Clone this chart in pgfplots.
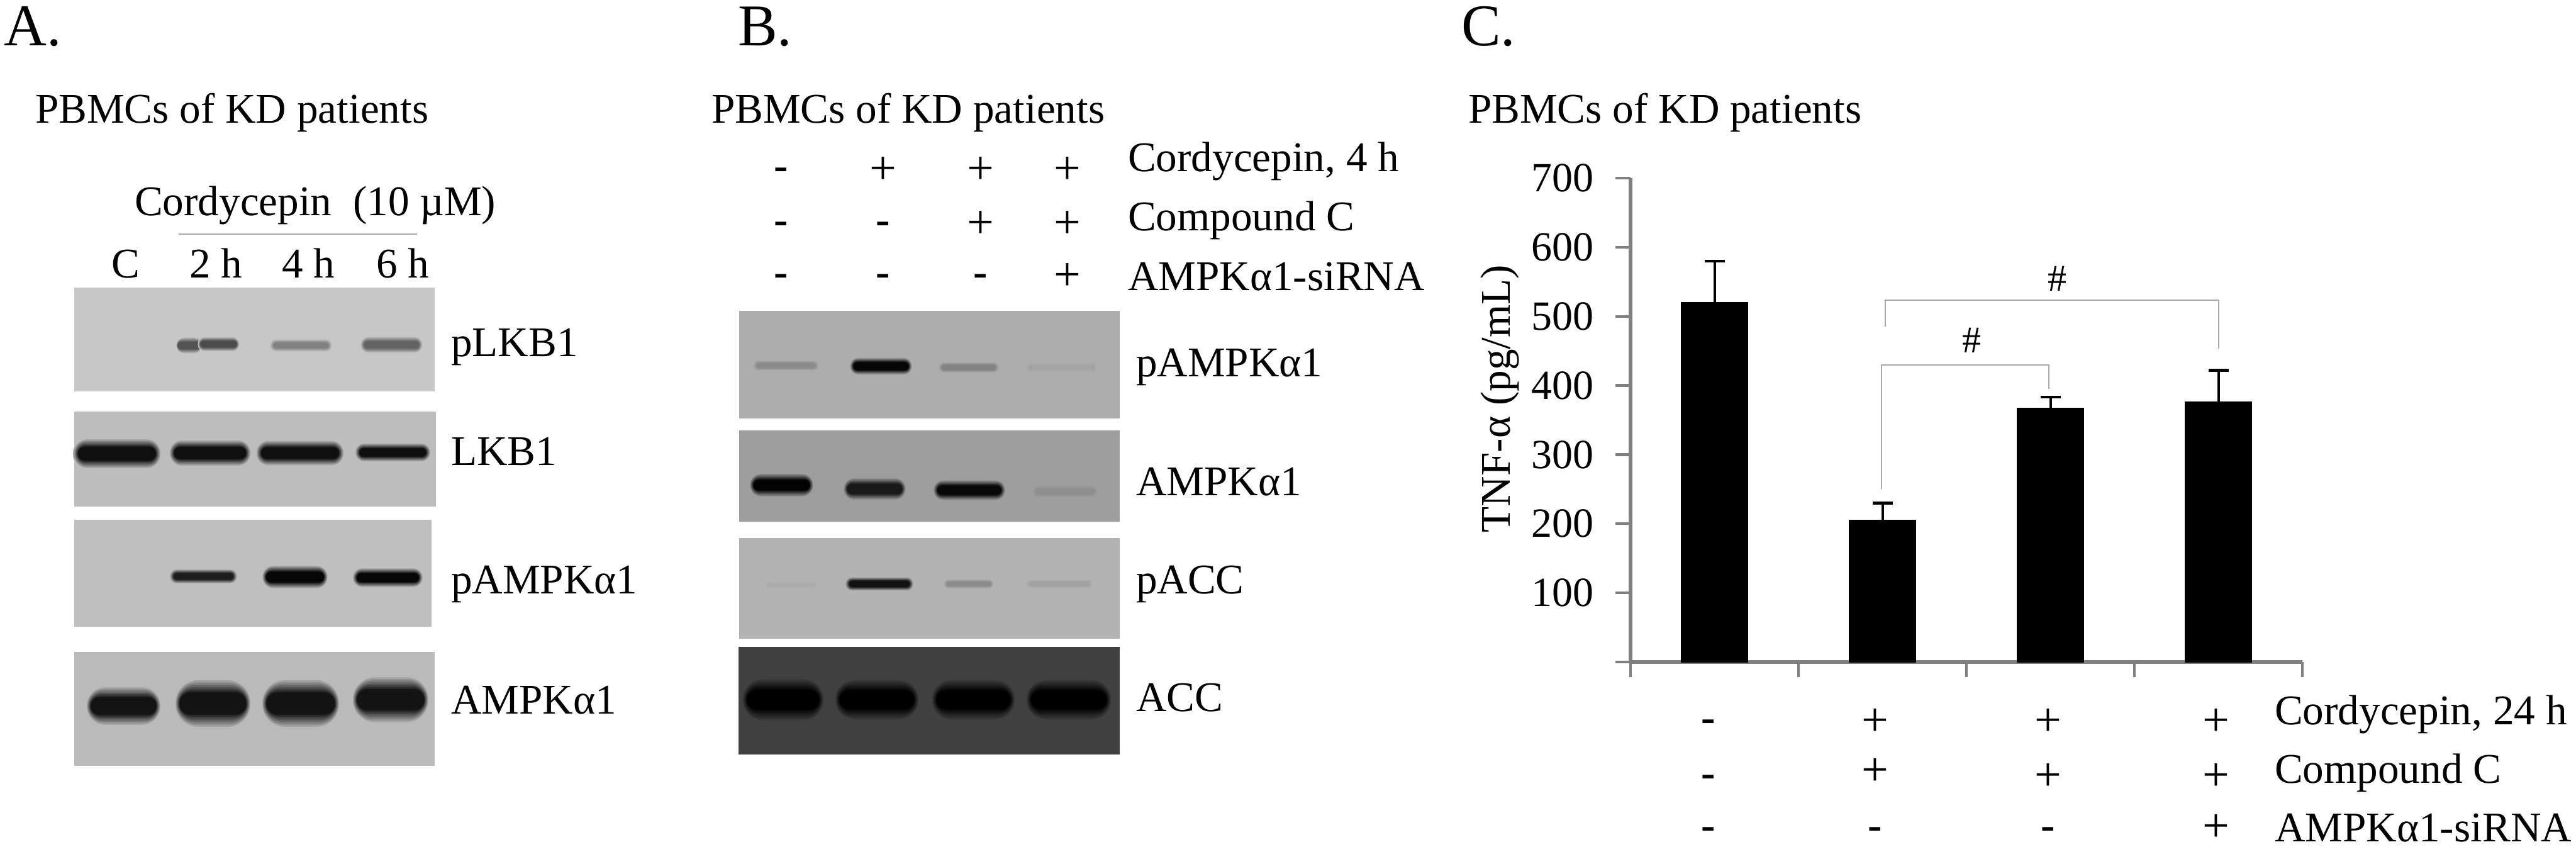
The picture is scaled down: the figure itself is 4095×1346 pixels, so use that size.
\documentclass[border=0pt]{standalone}
\usepackage{fontspec}
\setmainfont{Liberation Serif}
\usepackage{pgfplots}
\pgfplotsset{compat=1.18}
\definecolor{axisgray}{gray}{0.5}
\definecolor{brk}{gray}{0.66}
\definecolor{gAa}{gray}{0.78}
\definecolor{gAb}{gray}{0.74}
\definecolor{gAc}{gray}{0.75}
\definecolor{gAd}{gray}{0.73}
\definecolor{gBa}{gray}{0.68}
\definecolor{gBb}{gray}{0.62}
\definecolor{gBc}{gray}{0.70}
\definecolor{gBd}{gray}{0.25}
\newcommand{\lab}{\fontsize{16.8}{20}\selectfont}
\newcommand{\yt}[1]{\fontsize{16.5}{18}\selectfont #1}
\newcommand{\Hd}[3]{\node[anchor=base west,inner sep=0pt,outer sep=0pt] at (#1,#2) {\fontsize{23.5}{25}\selectfont #3};}
% text at pixel position (base west)
\newcommand{\Tl}[3]{\node[anchor=base west,inner sep=0pt,outer sep=0pt] at (#1,#2) {\lab #3};}
\newcommand{\Tm}[3]{\node[anchor=base,inner sep=0pt,outer sep=0pt] at (#1,#2) {\lab #3};}
\newcommand{\Pl}[2]{\node[inner sep=0pt,outer sep=0pt] at (#1,#2) {\fontsize{19}{20}\selectfont +};}
\newcommand{\Mi}[2]{\node[inner sep=0pt,outer sep=0pt] at (#1,#2) {\lab\bfseries -};}
% band: x1 x2 ycentre height percent-black background
\newcommand{\band}[6]{%
  \foreach \i in {0,...,11}{%
    \pgfmathsetmacro{\f}{\i/11}%
    \pgfmathsetmacro{\hh}{(#4/2)*(1.6-1.2*\f)}%
    \pgfmathsetmacro{\ww}{((#2-#1)/2)*(1.05-0.17*\f)}%
    \pgfmathsetmacro{\xc}{(#1+#2)/2}%
    \pgfmathsetmacro{\rr}{\hh*0.25*0.98}%
    \pgfmathtruncatemacro{\p}{#5*min(1,1.35*\f)}%
    \fill[black!\p!#6,rounded corners=\rr pt] (\xc-\ww,#3-\hh) rectangle (\xc+\ww,#3+\hh);
  }}
\begin{document}
\begin{tikzpicture}[x=0.25pt,y=-0.25pt]
\useasboundingbox (0,0) rectangle (4095,1346);
% ---------- Panel A
\Hd{7}{73}{A.}
\Tl{56}{196}{PBMCs of KD patients}
\Tl{214}{343}{Cordycepin\ \ (10 µM)}
\draw[brk,line width=0.5pt] (284,372)--(663,372);
\Tm{200}{442}{C}
\Tm{343}{442}{2 h}
\Tm{490}{442}{4 h}
\Tm{640}{442}{6 h}
\fill[gAa] (118,457) rectangle (691,622);
\band{281}{320}{549}{17}{58}{gAa}
\band{316}{379}{547}{15}{62}{gAa}
\band{431}{526}{549}{13}{35}{gAa}
\band{575}{670}{548}{17}{50}{gAa}
\fill[gAb] (118,654) rectangle (693,805);
\band{119}{253}{721}{31}{92}{gAb}
\band{272}{396}{720}{27}{92}{gAb}
\band{410}{544}{720}{26}{92}{gAb}
\band{567}{682}{719}{19}{92}{gAb}
\fill[gAc] (118,826) rectangle (686,996);
\band{272}{375}{916}{15}{85}{gAc}
\band{419}{519}{917}{24}{97}{gAc}
\band{563}{670}{918}{20}{97}{gAc}
\fill[gAd] (118,1036) rectangle (691,1217);
\band{140}{253}{1122}{40}{90}{gAd}
\band{281}{396}{1118}{50}{90}{gAd}
\band{419}{537}{1118}{50}{90}{gAd}
\band{563}{679}{1112}{48}{90}{gAd}
\Tl{717}{567}{pLKB1}
\Tl{717}{740}{LKB1}
\Tl{717}{944}{pAMPKα1}
\Tl{717}{1135}{AMPKα1}
% ---------- Panel B
\Hd{1173}{73}{B.}
\Tl{1131}{196}{PBMCs of KD patients}
\Mi{1242}{276}\Pl{1404}{271}\Pl{1559}{271}\Pl{1697}{271}
\Mi{1242}{362}\Mi{1404}{362}\Pl{1559}{357}\Pl{1697}{357}
\Mi{1242}{445}\Mi{1404}{445}\Mi{1559}{445}\Pl{1697}{440}
\Tl{1793}{273}{Cordycepin, 4 h}
\Tl{1793}{367}{Compound C}
\Tl{1793}{462}{AMPKα1-siRNA}
\fill[gBa] (1175,494) rectangle (1780,665);
\band{1199}{1300}{581}{11}{20}{gBa}
\band{1353}{1448}{582}{18}{97}{gBa}
\band{1494}{1586}{584}{11}{25}{gBa}
\band{1632}{1743}{584}{11}{6}{gBa}
\fill[gBb] (1175,684) rectangle (1780,829);
\band{1194}{1291}{771}{24}{98}{gBb}
\band{1343}{1438}{777}{23}{85}{gBb}
\band{1486}{1596}{779}{21}{95}{gBb}
\band{1643}{1743}{781}{13}{10}{gBb}
\fill[gBc] (1175,855) rectangle (1780,1015);
\band{1215}{1299}{930}{8}{4}{gBc}
\band{1346}{1450}{928}{14}{90}{gBc}
\band{1502}{1578}{928}{10}{22}{gBc}
\band{1632}{1735}{928}{9}{10}{gBc}
\fill[gBd] (1174,1028) rectangle (1780,1199);
\band{1183}{1307}{1112}{44}{100}{gBd}
\band{1330}{1458}{1112}{42}{100}{gBd}
\band{1484}{1611}{1112}{42}{100}{gBd}
\band{1634}{1764}{1112}{42}{100}{gBd}
\Tl{1806}{599}{pAMPKα1}
\Tl{1806}{788}{AMPKα1}
\Tl{1806}{944}{pACC}
\Tl{1806}{1131}{ACC}
% ---------- Panel C
\Hd{2323}{73}{C.}
\Tl{2334}{196}{PBMCs of KD patients}
\begin{axis}[
  at={(648pt,-263pt)},anchor=origin,
  scale only axis,width=267pt,height=192.25pt,
  xmin=0,xmax=4,ymin=0,ymax=700,
  axis x line=bottom,axis y line=left,
  axis line style={-,axisgray,line width=1.3pt},
  tick style={axisgray,line width=1.1pt},
  tick align=outside,major tick length=6pt,
  xtick={0,1,2,3,4},xticklabels={},
  ytick={0,100,200,300,400,500,600,700},
  yticklabels={{},\yt{100},\yt{200},\yt{300},\yt{400},\yt{500},\yt{600},\yt{700}},
  y tick label style={xshift=-5pt},
  /pgf/number format/assume math mode=true,
  ylabel={TNF-α (pg/mL)},
  ylabel style={font=\lab,at={(axis description cs:0,0.544)},anchor=base,yshift=48pt},
  clip=false,
]
\addplot[ybar,bar width=26.25pt,fill=black,draw=black,
  error bars/.cd,y dir=plus,y explicit,
  error bar style={black,line width=1pt},
  error mark options={rotate=90,black,mark size=4pt,line width=1.1pt}]
  coordinates {(0.5,520)+-(0,60) (1.5,205)+-(0,25) (2.5,367)+-(0,16) (3.5,376)+-(0,46)};
\addplot[brk,line width=0.5pt] coordinates {(1.495,250)(1.495,430)(2.49,430)(2.49,395)};
\addplot[brk,line width=0.5pt] coordinates {(1.517,485)(1.517,523)(3.50,523)(3.50,453)};
\node[anchor=base,inner sep=0pt] at (axis cs:2.03,447) {\fontsize{15}{16}\selectfont \#};
\node[anchor=base,inner sep=0pt] at (axis cs:2.54,537) {\fontsize{15}{16}\selectfont \#};
\end{axis}
\Mi{2716}{1153}\Pl{2981}{1148}\Pl{3256}{1148}\Pl{3523}{1148}
\Mi{2716}{1241}\Pl{2981}{1227}\Pl{3256}{1235}\Pl{3523}{1235}
\Mi{2716}{1324}\Mi{2981}{1324}\Mi{3256}{1324}\Pl{3523}{1316}
\Tl{3616}{1152}{Cordycepin, 24 h}
\Tl{3616}{1245}{Compound C}
\Tl{3616}{1337}{AMPKα1-siRNA}
\end{tikzpicture}
\end{document}
